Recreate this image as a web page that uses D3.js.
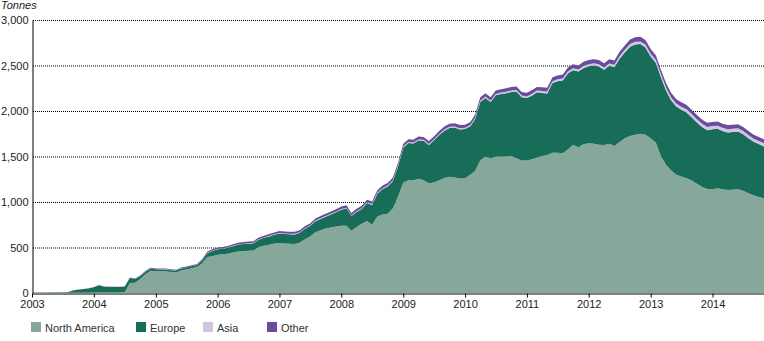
<!DOCTYPE html>
<html><head><meta charset="utf-8">
<script src="https://cdn.jsdelivr.net/npm/d3@7/dist/d3.min.js"></script>
<style>
body{margin:0;background:#fff;}
text{font-family:"Liberation Sans",Arial,sans-serif;}
</style></head>
<body><svg id="c" width="764" height="341"></svg>
<script>
// Monthly data, Jan 2003 .. Nov 2014 (tonnes)
const startYear = 2003;
const yearTicks = ["2003","2004","2005","2006","2007","2008","2009","2010","2011","2012","2013","2014"];
const yTicks = [0,500,1000,1500,2000,2500,3000];
const seriesNames = ["North America","Europe","Asia","Other"];
const seriesColors = ["#86a89a","#176d57","#d2c5e4","#6a4c9c"];

const northAmerica = [
 1,1,1,1,1,1,2,2,3,3,4,4,
 5,6,6,6,6,6,7,109,114,153,207,244,
 240,238,238,230,225,250,258,272,285,325,395,405,
 420,425,430,445,455,460,465,468,505,520,530,545,
 550,545,540,538,555,590,620,668,690,710,720,730,
 740,740,685,725,760,790,750,840,862,870,930,1060,
 1215,1240,1240,1255,1240,1205,1215,1240,1265,1278,1270,1258,
 1260,1300,1340,1460,1498,1480,1500,1500,1500,1506,1480,1455,
 1455,1470,1490,1505,1517,1540,1542,1535,1580,1627,1601,1635,
 1645,1640,1630,1627,1640,1615,1660,1700,1725,1740,1750,1740,
 1700,1650,1510,1410,1350,1300,1280,1262,1235,1200,1165,1143,
 1140,1150,1140,1132,1135,1140,1125,1095,1075,1055,1040
];
const europe = [
 2,3,3,4,4,5,5,7,25,33,39,46,
 57,78,63,61,59,61,62,55,40,35,30,25,
 21,21,21,21,21,20,21,21,23,30,43,57,
 62,61,66,69,77,78,77,79,81,86,92,94,
 103,103,105,106,106,115,115,121,124,127,142,156,
 176,190,160,165,164,198,218,252,280,301,300,330,
 384,409,403,422,432,421,461,495,519,536,549,539,
 542,532,570,640,645,618,672,686,696,703,734,697,
 687,701,715,694,676,767,785,800,835,821,832,836,
 846,860,859,826,857,866,914,944,982,991,985,959,
 899,878,869,818,769,749,733,722,694,673,659,646,
 659,654,640,633,635,635,620,605,586,581,571
];
const asia = [
 0,0,0,0,0,0,0,0,0,0,0,0,
 0,0,0,0,0,0,0,1,1,1,1,1,
 1,1,1,1,1,1,2,2,2,3,3,3,
 3,3,4,4,4,4,5,5,5,5,6,6,
 6,6,6,6,7,7,7,7,7,8,8,8,
 8,8,8,8,8,9,9,9,9,9,10,10,
 10,10,10,11,11,11,11,12,12,12,12,13,
 13,13,14,14,15,15,15,16,16,17,17,18,
 18,19,19,20,20,21,21,22,22,23,23,24,
 24,25,25,26,26,27,28,28,29,30,30,31,
 31,32,32,33,33,33,34,34,34,35,35,35,
 35,35,35,35,35,35,35,35,35,35,35
];
const other = [
 1,1,1,1,1,1,1,1,2,2,2,2,
 3,4,3,3,3,3,3,5,5,6,7,8,
 8,8,8,8,8,9,9,10,10,12,14,15,
 15,16,16,17,17,18,18,18,19,19,20,20,
 21,21,21,22,22,23,23,24,24,25,25,26,
 26,27,27,27,28,28,28,29,29,30,30,30,
 31,31,32,32,32,33,33,33,34,34,34,35,
 35,35,36,36,37,37,38,38,38,39,39,40,
 40,40,41,41,42,42,42,43,43,44,44,45,
 45,45,46,46,47,47,48,48,49,49,50,50,
 50,50,49,49,48,48,48,47,47,47,46,46,
 46,46,45,45,45,45,45,45,44,44,44
];

(function(){
const rows = northAmerica.map((v,i)=>({
  date: new Date(startYear + Math.floor(i/12), i%12, 1),
  "North America": v, "Europe": europe[i], "Asia": asia[i], "Other": other[i]
}));

const svg = d3.select("#c");
const mLeft = 32, mRight = 764, mTop = 20, mBottom = 293;
const x = d3.scaleTime().domain([rows[0].date, rows[rows.length-1].date]).range([mLeft, mRight]);
const y = d3.scaleLinear().domain([0,3000]).range([mBottom, mTop]);

// gridlines
svg.append("g").selectAll("line").data(yTicks.filter(d=>d>0)).join("line")
  .attr("x1", mLeft+1).attr("x2", mRight).attr("y1", d=>y(d)+0.5).attr("y2", d=>y(d)+0.5)
  .attr("stroke", "#000").attr("stroke-width", 1).attr("stroke-dasharray", "1,1");

const stack = d3.stack().keys(seriesNames);
const layers = stack(rows);
const area = d3.area().x(d=>x(d.data.date)).y0(d=>y(d[0])).y1(d=>y(d[1]));
svg.append("g").selectAll("path").data(layers).join("path")
  .attr("d", area).attr("fill", (d,i)=>seriesColors[i]);

// y axis
const yAxis = d3.axisLeft(y).tickValues(yTicks).tickFormat(d3.format(",")).tickSize(0).tickPadding(4);
const gy = svg.append("g").attr("transform", `translate(${mLeft+0.5},0)`).call(yAxis);
gy.select(".domain").attr("stroke","#000");
gy.selectAll("text").attr("font-size", 11).attr("fill","#222").attr("font-family","Liberation Sans, Arial, sans-serif");

// x axis
const xTickDates = yearTicks.map(s=>new Date(+s,0,1));
const xAxis = d3.axisBottom(x).tickValues(xTickDates).tickFormat(d3.timeFormat("%Y")).tickSize(4).tickSizeOuter(0).tickPadding(3);
const gx = svg.append("g").attr("transform", `translate(0,${mBottom+0.5})`).call(xAxis);
gx.select(".domain").attr("stroke","#000");
gx.selectAll("line").attr("stroke","#000");
gx.selectAll("text").attr("font-size", 11).attr("fill","#222").attr("font-family","Liberation Sans, Arial, sans-serif");

svg.append("text").attr("x", 1).attr("y", 9).attr("font-size", 11).attr("font-style","italic")
  .attr("fill","#222").text("Tonnes");

// legend
const legendX = [31, 136, 203, 267];
const lg = svg.append("g").selectAll("g").data(seriesNames).join("g")
  .attr("transform", (d,i)=>`translate(${legendX[i]},322)`);
lg.append("rect").attr("width",10).attr("height",10).attr("fill",(d,i)=>seriesColors[i]);
lg.append("text").attr("x",14).attr("y",9.5).attr("font-size",11).attr("fill","#333").text(d=>d);
})();
</script></body></html>
